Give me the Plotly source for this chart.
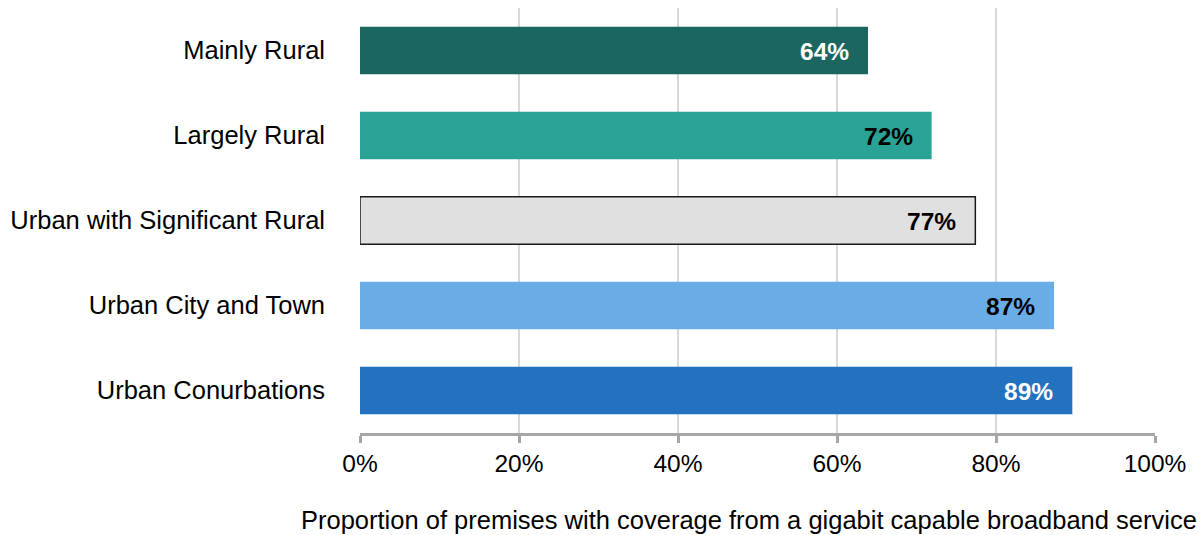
import plotly.graph_objects as go

categories = ["Mainly Rural", "Largely Rural", "Urban with Significant Rural",
              "Urban City and Town", "Urban Conurbations"]
values = [63.9, 71.9, 77.4, 87.3, 89.6]
labels = ["64%", "72%", "77%", "87%", "89%"]
bar_colors = ["#1b665f", "#2aa396", "#e0e0e0", "#6aade6", "#2272bf"]
line_colors = ["#1b665f", "#2aa396", "#1a1a1a", "#6aade6", "#2272bf"]
label_colors = ["white", "black", "black", "black", "white"]
tick_vals = [0, 20, 40, 60, 80, 100]
tick_text = ["0%", "20%", "40%", "60%", "80%", "100%"]
x_title = "Proportion of premises with coverage from a gigabit capable broadband service"

FONT = "Liberation Sans, Arial, sans-serif"

fig = go.Figure()
fig.add_trace(go.Bar(
    x=values, y=categories, orientation="h",
    marker=dict(color=bar_colors, line=dict(color=line_colors, width=[0, 0, 1.5, 0, 0])),
    width=0.56, hoverinfo="skip",
))

for v, c, t, col in zip(values, categories, labels, label_colors):
    fig.add_annotation(x=v, y=c, text="<b>" + t + "</b>", showarrow=False,
                       xanchor="right", xshift=-17, yshift=-1,
                       font=dict(family=FONT, size=24.5, color=col))

fig.add_annotation(x=1.0, xref="paper", xanchor="right", xshift=44,
                   y=0, yref="paper", yanchor="top", yshift=-71,
                   text=x_title, showarrow=False,
                   font=dict(family=FONT, size=25.5, color="black"))

fig.update_layout(
    width=1203, height=535,
    margin=dict(l=360, r=48, t=8, b=102),
    paper_bgcolor="white", plot_bgcolor="white",
    showlegend=False,
    font=dict(family=FONT, size=25, color="black"),
    bargap=0.44,
)
fig.update_xaxes(
    range=[0, 100], tickvals=tick_vals, ticktext=tick_text,
    showgrid=True, gridcolor="#d9d9d9", gridwidth=2,
    showline=True, linecolor="#a6a6a6", linewidth=3,
    ticks="outside", ticklen=7, tickwidth=3, tickcolor="#a6a6a6",
    zeroline=False,
    tickfont=dict(family=FONT, size=24.5, color="black"),
)
fig.update_yaxes(
    categoryorder="array", categoryarray=categories[::-1],
    range=[-0.5, 4.5], showgrid=False, zeroline=False, showline=False,
    ticks="", ticklabelstandoff=34,
    tickfont=dict(family=FONT, size=25.5, color="black"),
)

fig.write_html("out.html")
